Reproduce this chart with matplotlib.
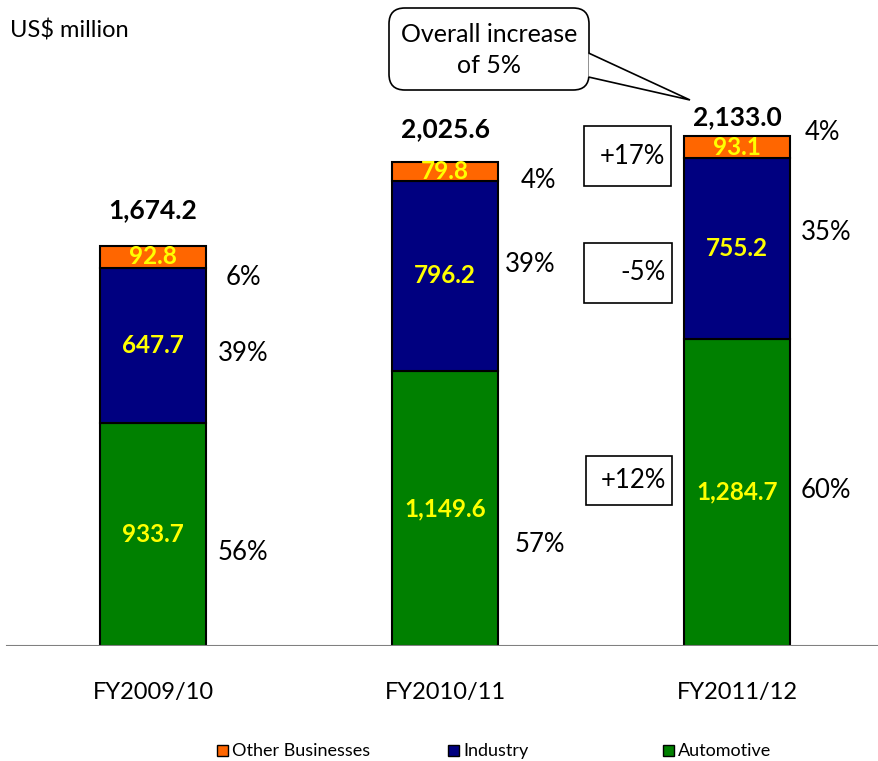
import matplotlib
import numpy as np
import matplotlib.pyplot as plt
from matplotlib.patches import FancyBboxPatch, Polygon, Rectangle

matplotlib.rc('font', family=['Lato', 'DejaVu Sans'])

years = ['FY2009/10', 'FY2010/11', 'FY2011/12']
automotive = [933.7, 1149.6, 1284.7]
industry = [647.7, 796.2, 755.2]
other = [92.8, 79.8, 93.1]
totals = ['1,674.2', '2,025.6', '2,133.0']
auto_lbl = ['933.7', '1,149.6', '1,284.7']
ind_lbl = ['647.7', '796.2', '755.2']
oth_lbl = ['92.8', '79.8', '93.1']
pct_auto = ['56%', '57%', '60%']
pct_ind = ['39%', '39%', '35%']
pct_oth = ['6%', '4%', '4%']
growth = ['+12%', '-5%', '+17%']

c_auto = '#008000'
c_ind = '#000080'
c_oth = '#FF6600'

W, H = 879, 761
fig = plt.figure(figsize=(W / 100, H / 100), dpi=100)

base_px = 646
top_val = 2133.0
top_px = 136
scale = (base_px - top_px) / top_val  # px per unit
ax = fig.add_axes([0, (H - base_px) / H, 1, base_px / H])
ax.set_ylim(0, base_px / scale)
ax.set_xlim(-153 / 292, (W - 153) / 292)
ax.axis('off')

x = np.arange(len(years))
bw = 0.366
auto = np.array(automotive)
ind = np.array(industry)
oth = np.array(other)
ax.bar(x, auto, bw, color=c_auto, edgecolor='black', linewidth=1.5, zorder=2)
ax.bar(x, ind, bw, bottom=auto, color=c_ind, edgecolor='black', linewidth=1.5, zorder=2)
ax.bar(x, oth, bw, bottom=auto + ind, color=c_oth, edgecolor='black', linewidth=1.5, zorder=2)
ax.axhline(0, xmin=7 / W, color='#808080', lw=1.5, zorder=3)

# pixel rows of the total labels
tot_y = [210, 129, 117]

seg_fs = 17.5
for i in range(len(years)):
    ax.text(x[i], auto[i] / 2, auto_lbl[i], color='#FFFF00', fontsize=seg_fs, fontweight='bold',
            ha='center', va='center', zorder=4)
    ax.text(x[i], auto[i] + ind[i] / 2, ind_lbl[i], color='#FFFF00', fontsize=seg_fs, fontweight='bold',
            ha='center', va='center', zorder=4)
    ax.text(x[i], auto[i] + ind[i] + oth[i] / 2, oth_lbl[i], color='#FFFF00', fontsize=seg_fs,
            fontweight='bold', ha='center', va='center', zorder=4)
    ax.text(x[i], (base_px - tot_y[i]) / scale, totals[i], fontsize=19, fontweight='bold',
            ha='center', va='center')
    ax.text(x[i], -47 / scale, years[i], fontsize=17, ha='center', va='center')

# percentage labels
pct_pos = [(243, 277), (243, 354), (243, 552),
           (538, 180), (530, 265), (540, 545),
           (822, 133), (826, 233), (826, 490)]
pct_txt = [pct_oth[0], pct_ind[0], pct_auto[0],
           pct_oth[1], pct_ind[1], pct_auto[1],
           pct_oth[2], pct_ind[2], pct_auto[2]]
for (px, pyy), t in zip(pct_pos, pct_txt):
    fig.text(px / W, 1 - pyy / H, t, fontsize=18.5, ha='center', va='center')

# growth boxes
boxes = [(586, 456, 672, 505), (584, 243, 672, 303), (584, 126, 671, 186)]
for (x0, y0, x1, y1), t in zip(boxes, growth):
    fig.patches.append(Rectangle((x0 / W, 1 - y1 / H), (x1 - x0) / W, (y1 - y0) / H,
                                 transform=fig.transFigure, fill=False, ec='black', lw=1.2))
    fig.text((x1 - 6) / W, 1 - (y0 + y1) / 2 / H, t, fontsize=18.5, ha='right', va='center')

# callout
fig.patches.append(FancyBboxPatch((389 / W, 1 - 90 / H), 200 / W, 82 / H,
                                  boxstyle='round,pad=0,rounding_size=0.018',
                                  transform=fig.transFigure, fc='white', ec='black', lw=1.2,
                                  mutation_aspect=W / H))
fig.patches.append(Polygon([(588.5 / W, 1 - 53 / H), (690 / W, 1 - 100 / H), (588.5 / W, 1 - 77 / H)],
                           closed=False, transform=fig.transFigure, fc='white', ec='black', lw=1.2))
fig.text(489 / W, 1 - 50 / H, 'Overall increase\nof 5%', fontsize=18, ha='center', va='center',
         linespacing=1.4)

fig.text(10 / W, 1 - 31 / H, 'US$ million', fontsize=17, ha='left', va='center')

# legend
leg = [('Other Businesses', c_oth, 217), ('Industry', c_ind, 448), ('Automotive', c_auto, 663)]
for name, col, lx in leg:
    fig.patches.append(Rectangle((lx / W, 1 - 756 / H), 11 / W, 11 / H, transform=fig.transFigure,
                                 fc=col, ec='black', lw=1))
    fig.text((lx + 15) / W, 1 - 751 / H, name, fontsize=13, ha='left', va='center')

fig.savefig('out.png', dpi=100)
